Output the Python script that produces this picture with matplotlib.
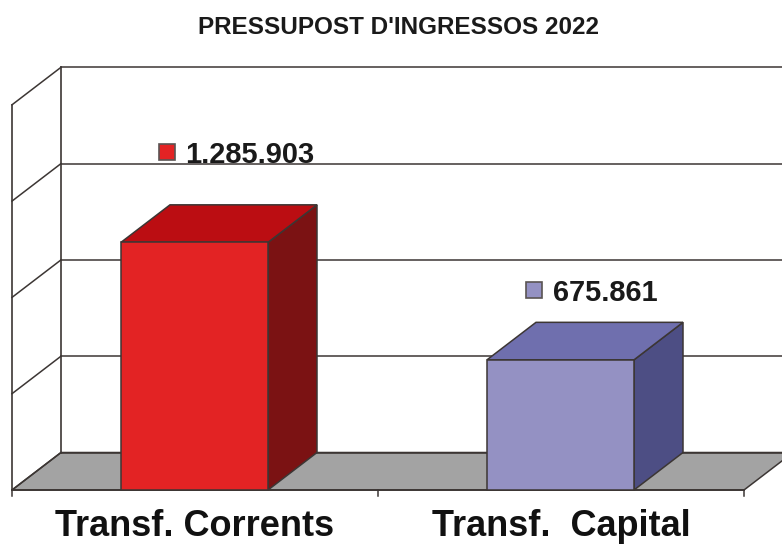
import matplotlib
matplotlib.use("Agg")
import matplotlib.pyplot as plt
from matplotlib.patches import Polygon, Rectangle

titol = "PRESSUPOST D'INGRESSOS 2022"
categories = ["Transf. Corrents", "Transf.  Capital"]
valors = [1285903, 675861]
etiquetes = ["1.285.903", "675.861"]
colors_front = ["#e32324", "#9491c3"]
colors_top = ["#bb0d12", "#6f6fae"]
colors_side = ["#7b1213", "#4d4e84"]
graella = [0, 500000, 1000000, 1500000, 2000000]

# escala: una categoria = 366 px, 500000 = 96.3 px
PX_X = 366.0
PX_Y = 96.3 / 500000
DX = 49 / PX_X
DY = 37.5 / PX_Y
AMPLE = 147 / PX_X
LINIA = "#3c3634"

# posicio de cada etiqueta respecte de la barra, en px
ET_X = [38, 39]
ET_Y = [53, 32]

plt.rcParams['font.family'] = ['Liberation Sans', 'DejaVu Sans']

fig = plt.figure(figsize=(7.82, 5.44), dpi=100)
ax = fig.add_axes([0, 0, 1, 1])
ax.set_xlim(-12 / PX_X, 770 / PX_X)
ax.set_ylim(-54 / PX_Y, 490 / PX_Y)
ax.axis("off")

# terra i paret esquerra
n = len(categories)
ax.add_patch(Polygon([(0, 0), (n, 0), (n + DX, DY), (DX, DY)], fc="#a3a3a3", ec=LINIA, lw=1.1, zorder=1))
ax.plot([0, 0], [0, graella[-1]], color=LINIA, lw=1.2, zorder=2)
ax.plot([DX, DX], [DY, graella[-1] + DY], color=LINIA, lw=1.2, zorder=2)
for g in graella:
    ax.plot([0, DX], [g, g + DY], color=LINIA, lw=1.1, zorder=2)
    ax.plot([DX, n + DX], [g + DY, g + DY], color=LINIA, lw=1.1, zorder=2)

# eix x
ax.plot([0, n], [0, 0], color=LINIA, lw=1.3, zorder=2)
for i in range(n + 1):
    ax.plot([i, i], [0, -6 / PX_Y], color=LINIA, lw=1.1, zorder=2)

# barres
for i, v in enumerate(valors):
    x0 = i + 0.5 - AMPLE / 2 - 0.5 / PX_X
    x1 = x0 + AMPLE
    ax.add_patch(Polygon([(x1, 0), (x1 + DX, DY), (x1 + DX, v + DY), (x1, v)],
                         fc=colors_side[i], ec=LINIA, lw=1.1, zorder=3))
    ax.add_patch(Polygon([(x0, v), (x1, v), (x1 + DX, v + DY), (x0 + DX, v + DY)],
                         fc=colors_top[i], ec=LINIA, lw=1.1, zorder=3))
    ax.add_patch(Rectangle((x0, 0), AMPLE, v, fc=colors_front[i], ec=LINIA, lw=1.1, zorder=4))

    # etiqueta amb la clau de color
    xk = x0 + ET_X[i] / PX_X
    y_et = v + DY + ET_Y[i] / PX_Y
    ax.add_patch(Rectangle((xk, y_et - 8 / PX_Y), 16 / PX_X, 16 / PX_Y,
                           fc=colors_front[i], ec="#5a5453", lw=1.2, zorder=5))
    ax.text(xk + 26.5 / PX_X, y_et, etiquetes[i], ha="left", va="center_baseline",
            fontsize=20.9, fontweight="bold", color="#1a1a1a", zorder=6)

    ax.text(i + 0.5, -46 / PX_Y, categories[i], ha="center", va="baseline",
            fontsize=26, fontweight="bold", color="#111111", zorder=6)

fig.text(398.5 / 782, 1 - 27 / 544, titol, ha="center", va="center", fontsize=17.5,
         fontweight="bold", color="#1a1a1a")

fig.savefig("out.png", dpi=100)
